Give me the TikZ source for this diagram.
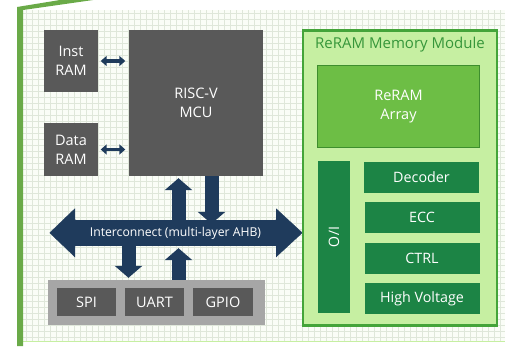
\documentclass[tikz,border=0pt]{standalone}
\usepackage{fontspec}
\setmainfont{Open Sans}
\usetikzlibrary{arrows.meta}

\definecolor{chipgray}{HTML}{595959}
\definecolor{perigray}{HTML}{A6A6A6}
\definecolor{busblue}{HTML}{1F3B5C}
\definecolor{modfill}{HTML}{C6EFA2}
\definecolor{modline}{HTML}{44A43A}
\definecolor{arrfill}{HTML}{6DBE45}
\definecolor{arrline}{HTML}{3E8E2E}
\definecolor{blockgreen}{HTML}{1C8445}
\definecolor{titlegreen}{HTML}{36963A}
\definecolor{barleft}{HTML}{6AAA48}
\definecolor{gridbg}{HTML}{FAFDF7}
\definecolor{gridline}{HTML}{DFE7DA}

\begin{document}
\begin{tikzpicture}[x=1pt,y=-1pt,
		box/.style={fill=chipgray,text=white,align=center,inner sep=0pt,
			font=\fontsize{14.5}{19}\selectfont},
		periph/.style={box,minimum width=59pt,minimum height=28pt},
		gblock/.style={fill=blockgreen,text=white,inner sep=0pt,
			minimum width=115pt,minimum height=31pt,font=\fontsize{14.3}{16}\selectfont},
		fat/.style={busblue,line width=14pt,-{Triangle[width=27pt,length=12pt]}},
		thin/.style={busblue,line width=3.4pt,{Triangle[width=10pt,length=6pt]}-{Triangle[width=10pt,length=6pt]},shorten <=2.5pt,shorten >=3.5pt}]

\useasboundingbox (0,0) rectangle (505,346);

% grid paper
\fill[gridbg] (23,10) rectangle (505,341);
\foreach \gx in {26,32,...,504}
	\draw[gridline,line width=0.6pt] (\gx,10) -- (\gx,341);
\foreach \gy in {13,19,...,340}
	\draw[gridline,line width=0.6pt] (23,\gy) -- (505,\gy);
\draw[modfill,line width=1pt] (23,341.5) -- (505,341.5);
\fill[barleft] (17,346) -- (17,7) -- (60,0) -- (93,0) -- (23,10) -- (23,346) -- cycle;

% CPU side
\node[box,minimum width=54pt,minimum height=62pt] (inst) at (71,61) {Inst\\RAM};
\node[box,minimum width=54pt,minimum height=53pt] (data) at (71,149.5) {Data\\RAM};
\node[box,minimum width=134pt,minimum height=146pt] (mcu) at (196,103) {RISC-V\\MCU};

\draw[thin] (inst.east) -- (inst.east -| mcu.west);
\draw[thin] (data.east) -- (data.east -| mcu.west);

% interconnect
\node[fill=busblue,text=white,inner sep=0pt,minimum width=201pt,minimum height=26pt,
	font=\fontsize{12.2}{14}\selectfont] (bus) at (175.5,233) {Interconnect (multi-layer AHB)};
\filldraw[busblue,line width=0.4pt] ([xshift=0.5pt]bus.north west) -- ++(-0.5,0) -- ++(0,-11)
	-- ++(-25,24) -- ++(25,24) -- ++(0,-11) -- ++(0.5,0) -- cycle;
\filldraw[busblue,line width=0.4pt] ([xshift=-0.5pt]bus.north east) -- ++(0.5,0) -- ++(0,-11)
	-- ++(26,24) -- ++(-26,24) -- ++(0,-11) -- ++(-0.5,0) -- cycle;

% peripherals
\node[fill=perigray,minimum width=217pt,minimum height=45pt,inner sep=0pt] (pbox) at (156.5,302.5) {};
\node[periph] (spi) at (86.5,302) {SPI};
\node[periph] (uart) at (154.5,302) {UART};
\node[periph,minimum width=60pt] (gpio) at (223,302) {GPIO};

\draw[fat,shorten >=2pt] (bus.north -| 178.5,0) -- (mcu.south -| 178.5,0);
\draw[fat] (mcu.south -| 211.5,0) -- ([yshift=-4pt]bus.north -| 211.5,0);
\draw[fat,shorten >=2pt] (bus.south -| 128.5,0) -- (pbox.north -| 128.5,0);
\draw[fat,shorten >=2pt] (pbox.north -| 178.5,0) -- (bus.south -| 178.5,0);

% ReRAM module
\node[fill=modfill,draw=modline,line width=2.5pt,minimum width=194pt,minimum height=295pt,
	inner sep=0pt] (module) at (400,178) {};
\node[text=titlegreen,font=\fontsize{15}{17}\selectfont] (title) at (400,45) {ReRAM Memory Module};
\node[fill=arrfill,draw=arrline,line width=1.6pt,text=white,align=center,inner sep=0pt,
	minimum width=162pt,minimum height=82pt,font=\fontsize{14.5}{19}\selectfont] (array) at (398.5,106.5) {ReRAM\\Array};
\node[fill=blockgreen,minimum width=32pt,minimum height=152pt,inner sep=0pt] (io) at (334,237) {};
\node[text=white,rotate=-90,font=\fontsize{14.3}{16}\selectfont] (iotext) at (io.center) {I/O};
\node[gblock] (dec) at (421.5,177) {Decoder};
\node[gblock] (ecc) at (422,217.5) {ECC};
\node[gblock] (ctrl) at (422,258) {CTRL};
\node[gblock] (hv) at (422,298.5) {High Voltage};
\end{tikzpicture}
\end{document}
